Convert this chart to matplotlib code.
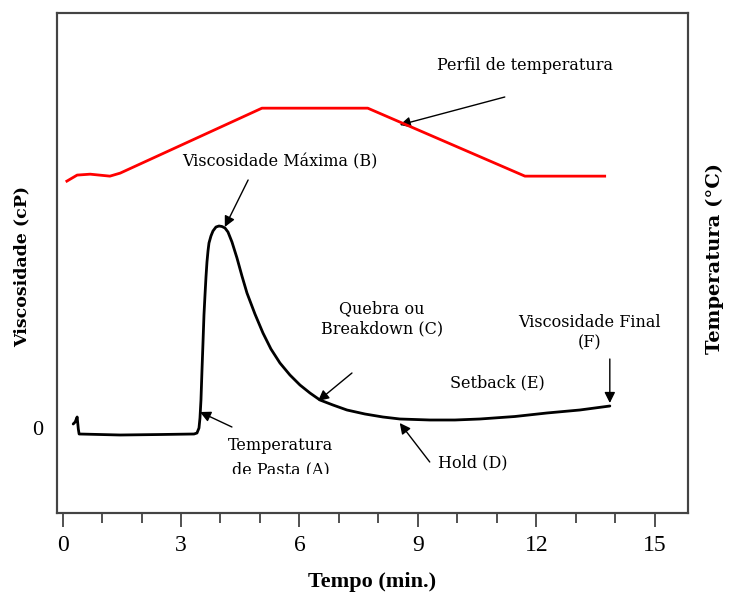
import matplotlib
matplotlib.use("Agg")
import matplotlib.pyplot as plt
from matplotlib.transforms import Bbox, TransformedBbox

# ---- data ----
# viscosity curve (time in min, viscosity in arbitrary cP units)
visc_time = [0.27, 0.32, 0.37, 0.40, 0.42, 1.46, 2.5, 3.33, 3.405, 3.456, 3.481, 3.506,
             3.532, 3.557, 3.582, 3.608, 3.633, 3.658, 3.684, 3.709, 3.759, 3.810, 3.886,
             3.962, 4.038, 4.114, 4.190, 4.291, 4.418, 4.544, 4.671, 4.873, 5.076, 5.278,
             5.506, 5.759, 6.013, 6.266, 6.519, 6.848, 7.203, 7.658, 8.114, 8.544, 9.304,
             9.937, 10.570, 11.456, 12.266, 13.101, 13.861]
visc_vals = [40, 60, 110, -10, -60, -70, -65, -60, -50, 0, 100, 280,
             580, 850, 1130, 1330, 1510, 1660, 1770, 1850, 1920, 1970, 2010,
             2020, 2015, 2000, 1960, 1860, 1700, 1520, 1350, 1140, 950, 790,
             650, 530, 430, 350, 280, 230, 180, 140, 110, 90, 80,
             80, 90, 115, 150, 180, 220]

# temperature profile (time in min, temperature in °C)
temp_time = [0.11, 0.37, 0.70, 1.20, 1.46, 5.05, 7.73, 11.71, 13.73]
temp_vals = [46.7, 50.7, 51.3, 50.0, 52.0, 95.0, 95.0, 50.0, 50.0]

x_major = [0, 3, 6, 9, 12, 15]
x_minor = list(range(0, 16))

font_ann = "DejaVu Serif"
font_tick = "Liberation Serif"

fig = plt.figure(figsize=(7.33, 6.01), dpi=100)
ax = fig.add_axes([57 / 733, 1 - 513 / 601, 631 / 733, 500 / 601])
ax.set_xlim(-0.14, 15.84)
ax.set_ylim(-850, 4150)

ax.plot(visc_time, visc_vals, color="black", lw=2.0, solid_joinstyle="round",
        solid_capstyle="round")

ax2 = ax.twinx()
ax2.set_ylim(-173, 158)
ax2.plot(temp_time, temp_vals, color="#ff0000", lw=2.0, solid_joinstyle="round")
ax2.set_yticks([])

# ticks
ax.set_xticks(x_major)
ax.set_xticks(x_minor, minor=True)
ax.tick_params(axis="x", which="major", direction="out", length=10, width=1.2,
               color="#333333", pad=6)
ax.tick_params(axis="x", which="minor", direction="out", length=7, width=1.2,
               color="#333333")
for lab in ax.get_xticklabels():
    lab.set_fontfamily(font_tick)
    lab.set_fontsize(17)
ax.set_yticks([0])
ax.set_yticklabels(["0"], fontfamily=font_tick, fontsize=16)
ax.tick_params(axis="y", length=0, pad=10)

for a in (ax, ax2):
    for s in a.spines.values():
        s.set_color("#444444")
        s.set_linewidth(1.5)

ax.set_xlabel("Tempo (min.)", fontfamily=font_tick, fontweight="bold", fontsize=16,
              labelpad=11)
fig.text(22 / 733, 1 - 266 / 601, "Viscosidade (cP)", rotation=90, ha="center",
         va="center", fontfamily=font_ann, fontweight="bold", fontsize=12.5)
fig.text(715 / 733, 1 - 258 / 601, "Temperatura (°C)", rotation=90, ha="center",
         va="center", fontfamily=font_ann, fontweight="bold", fontsize=14)

arrow = dict(arrowstyle="-|>", color="black", lw=1.0, mutation_scale=16,
             shrinkA=0, shrinkB=0)
tfs = 11.5

# Perfil de temperatura
ax.text(11.71, 3620, "Perfil de temperatura", ha="center", va="center",
        fontfamily=font_ann, fontsize=tfs)
ax.annotate("", xy=(8.54, 3030), xytext=(11.20, 3310), arrowprops=arrow)

# Viscosidade Máxima (B)
ax.text(5.51, 2660, "Viscosidade Máxima (B)", ha="center", va="center",
        fontfamily=font_ann, fontsize=tfs)
ax.annotate("", xy=(4.11, 2010), xytext=(4.70, 2480), arrowprops=arrow)

# Temperatura de Pasta (A) -- bottom of text is cut off in the original
t = ax.text(5.52, -90, "Temperatura\nde Pasta (A)", ha="center", va="top",
            fontfamily=font_ann, fontsize=tfs, linespacing=1.55)
t.set_clip_box(TransformedBbox(Bbox([[0, (601 - 474) / 601], [1, 1]]), fig.transFigure))
t.set_clip_on(True)
ax.annotate("", xy=(3.48, 160), xytext=(4.29, 10), arrowprops=arrow)

# Quebra ou Breakdown (C)
ax.text(8.09, 1090, "Quebra ou\nBreakdown (C)", ha="center", va="center",
        fontfamily=font_ann, fontsize=tfs, linespacing=1.25)
ax.annotate("", xy=(6.47, 270), xytext=(7.33, 550), arrowprops=arrow)

# Hold (D)
ax.text(10.39, -350, "Hold (D)", ha="center", va="center",
        fontfamily=font_ann, fontsize=tfs)
ax.annotate("", xy=(8.54, 50), xytext=(9.30, -340), arrowprops=arrow)

# Setback (E)
ax.text(11.0, 450, "Setback (E)", ha="center", va="center",
        fontfamily=font_ann, fontsize=tfs)

# Viscosidade Final (F)
ax.text(13.35, 950, "Viscosidade Final\n(F)", ha="center", va="center",
        fontfamily=font_ann, fontsize=tfs, linespacing=1.25)
ax.annotate("", xy=(13.86, 250), xytext=(13.86, 690), arrowprops=arrow)

fig.savefig("out.png", dpi=100)
